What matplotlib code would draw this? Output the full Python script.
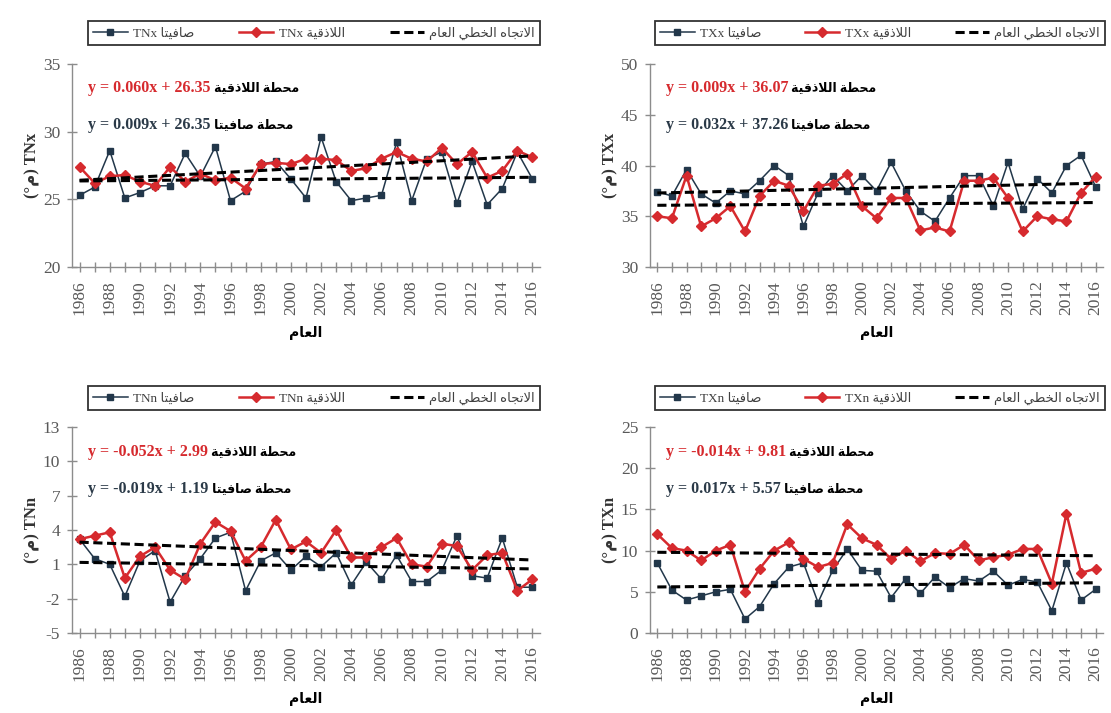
import numpy as np
import matplotlib
matplotlib.use("Agg")
from matplotlib import pyplot as plt
from matplotlib.lines import Line2D

plt.rcParams['font.family'] = ['Liberation Serif', 'DejaVu Sans']

# data
years = list(range(1986, 2017))

tnx_safita = [25.3, 25.9, 28.6, 25.1, 25.5, 26.0, 26.0, 28.4, 26.7, 28.9, 24.9,
              25.6, 27.6, 27.8, 26.5, 25.1, 29.6, 26.3, 24.9, 25.1, 25.3, 29.2,
              24.9, 28.0, 28.5, 24.7, 27.8, 24.6, 25.8, 28.5, 26.5]
tnx_latakia = [27.4, 26.2, 26.7, 26.8, 26.3, 26.0, 27.4, 26.3, 26.9, 26.4, 26.6,
               25.8, 27.6, 27.7, 27.6, 28.0, 28.0, 27.9, 27.1, 27.3, 28.0, 28.5,
               28.0, 27.8, 28.8, 27.6, 28.5, 26.6, 27.1, 28.6, 28.1]

txx_safita = [37.4, 37.0, 39.6, 37.2, 36.3, 37.5, 37.2, 38.5, 40.0, 39.0, 34.0,
              37.3, 39.0, 37.5, 39.0, 37.5, 40.3, 37.5, 35.5, 34.5, 36.8, 39.0,
              39.0, 36.0, 40.3, 35.7, 38.7, 37.3, 40.0, 41.0, 37.9]
txx_latakia = [35.0, 34.8, 39.0, 34.0, 34.8, 36.0, 33.5, 37.0, 38.5, 38.0, 35.5,
               38.0, 38.2, 39.2, 36.0, 34.8, 36.8, 36.8, 33.6, 33.9, 33.5, 38.5,
               38.5, 38.8, 36.8, 33.5, 35.0, 34.7, 34.5, 37.3, 38.9]

tnn_safita = [3.2, 1.5, 1.0, -1.8, 1.3, 2.2, -2.3, 0.0, 1.5, 3.3, 3.8,
              -1.3, 1.3, 2.0, 0.5, 1.7, 0.8, 2.0, -0.8, 1.2, -0.3, 1.8,
              -0.5, -0.5, 0.5, 3.5, 0.0, -0.2, 3.3, -1.0, -1.0]
tnn_latakia = [3.2, 3.5, 3.8, -0.2, 1.7, 2.5, 0.5, -0.3, 2.8, 4.7, 3.9,
               1.3, 2.5, 4.9, 2.3, 3.0, 2.0, 4.0, 1.6, 1.6, 2.5, 3.3,
               1.0, 0.8, 2.8, 2.6, 0.5, 1.8, 2.0, -1.3, -0.3]

txn_safita = [8.5, 5.2, 4.0, 4.5, 5.0, 5.3, 1.7, 3.2, 6.0, 8.0, 8.5,
              3.7, 7.6, 10.2, 7.6, 7.5, 4.3, 6.6, 4.8, 6.8, 5.5, 6.6,
              6.3, 7.5, 5.8, 6.5, 6.2, 2.7, 8.5, 4.0, 5.3]
txn_latakia = [12.0, 10.3, 10.0, 8.8, 10.0, 10.7, 5.0, 7.8, 10.0, 11.0, 9.0,
               8.0, 8.5, 13.2, 11.5, 10.7, 9.0, 10.0, 8.7, 9.7, 9.6, 10.7,
               8.8, 9.2, 9.5, 10.2, 10.2, 6.0, 14.5, 7.3, 7.8]

# trend equations (slope, intercept), x = 1..31
trend_latakia = {'TNx': (0.060, 26.35), 'TXx': (0.009, 36.07),
                 'TNn': (-0.052, 2.99), 'TXn': (-0.014, 9.81)}
trend_safita = {'TNx': (0.009, 26.35), 'TXx': (0.032, 37.26),
                'TNn': (-0.019, 1.19), 'TXn': (0.017, 5.57)}

# minimal arabic shaping (matplotlib has no bidi / joining support)
FORMS = {
    'ا': (0xFE8D, 0xFE8E, None, None),
    'ت': (0xFE95, 0xFE96, 0xFE97, 0xFE98),
    'ة': (0xFE93, 0xFE94, None, None),
    'ج': (0xFE9D, 0xFE9E, 0xFE9F, 0xFEA0),
    'ح': (0xFEA1, 0xFEA2, 0xFEA3, 0xFEA4),
    'خ': (0xFEA5, 0xFEA6, 0xFEA7, 0xFEA8),
    'ذ': (0xFEAB, 0xFEAC, None, None),
    'ص': (0xFEB9, 0xFEBA, 0xFEBB, 0xFEBC),
    'ط': (0xFEC1, 0xFEC2, 0xFEC3, 0xFEC4),
    'ع': (0xFEC9, 0xFECA, 0xFECB, 0xFECC),
    'ف': (0xFED1, 0xFED2, 0xFED3, 0xFED4),
    'ق': (0xFED5, 0xFED6, 0xFED7, 0xFED8),
    'ل': (0xFEDD, 0xFEDE, 0xFEDF, 0xFEE0),
    'م': (0xFEE1, 0xFEE2, 0xFEE3, 0xFEE4),
    'ه': (0xFEE9, 0xFEEA, 0xFEEB, 0xFEEC),
    'ي': (0xFEF1, 0xFEF2, 0xFEF3, 0xFEF4),
}


def ar(text):
    out = []
    link = False
    i = 0
    n = len(text)
    while i < n:
        c = text[i]
        if c not in FORMS:
            out.append(c)
            link = False
            i += 1
            continue
        if c == 'ل' and i + 1 < n and text[i + 1] == 'ا':
            out.append(chr(0xFEFC if link else 0xFEFB))
            link = False
            i += 2
            continue
        iso, fin, ini, med = FORMS[c]
        nxt = ini is not None and i + 1 < n and text[i + 1] in FORMS
        if link and nxt:
            g = med
        elif link:
            g = fin
        elif nxt:
            g = ini
        else:
            g = iso
        out.append(chr(g))
        link = nxt
        i += 1
    return ''.join(reversed(out))


RED = '#d62a2e'
DARK = '#22374a'
GRAY = '#595959'

panels = [
    ('TNx', tnx_safita, tnx_latakia, [20, 25, 30, 35], (72, 540, 64, 267)),
    ('TXx', txx_safita, txx_latakia, [30, 35, 40, 45, 50], (650, 1103, 64, 267)),
    ('TNn', tnn_safita, tnn_latakia, [-5, -2, 1, 4, 7, 10, 13], (72, 540, 427, 633)),
    ('TXn', txn_safita, txn_latakia, [0, 5, 10, 15, 20, 25], (650, 1103, 427, 633)),
]

W, H = 1111, 713
fig = plt.figure(figsize=(W / 100, H / 100), dpi=100)

idx = np.arange(1, len(years) + 1)

for name, saf, lat, yt, (x0, x1, y0, y1) in panels:
    ax = fig.add_axes([x0 / W, 1 - y1 / H, (x1 - x0) / W, (y1 - y0) / H])
    ax.plot(years, saf, color=DARK, lw=1.1, marker='s', ms=4.5, mfc=DARK, mec=DARK)
    ax.plot(years, lat, color=RED, lw=1.8, marker='D', ms=5, mfc=RED, mec=RED)
    a, b = trend_safita[name]
    ax.plot(years, a * idx + b, color='black', lw=2.2, ls=(0, (3, 1.5)))
    a, b = trend_latakia[name]
    ax.plot(years, a * idx + b, color='black', lw=2.2, ls=(0, (3, 1.5)))

    ax.set_xlim(1985.5, 2016.5)
    ax.set_ylim(yt[0], yt[-1])
    ax.set_yticks(yt)
    ax.set_yticklabels([str(v).replace('-', '-') for v in yt])
    ax.set_xticks(years)
    ax.set_xticklabels([str(y) if y % 2 == 0 else '' for y in years], rotation=90)
    for s in ['top', 'right']:
        ax.spines[s].set_visible(False)
    for s in ['left', 'bottom']:
        ax.spines[s].set_color('#8c8c8c')
        ax.spines[s].set_linewidth(1.0)
    ax.tick_params(direction='inout', length=7, width=1, color='#8c8c8c',
                   labelcolor=GRAY, labelsize=12.5)
    ax.tick_params(axis='x', pad=6)
    ax.tick_params(axis='y', pad=5)

    ax.set_xlabel(ar('العام'), fontsize=10, fontweight='bold', labelpad=8)
    ax.set_ylabel('(°' + ar('م') + ') ' + name, fontsize=12, fontweight='bold',
                  color='#333333', labelpad=2)

    # trend equations
    a, b = trend_latakia[name]
    t1 = ax.text(0.035, 0.88, f'y = {a:.3f}x + {b:.2f}', transform=ax.transAxes,
                 color=RED, fontsize=11.5, fontweight='bold', va='center')
    ax.annotate(' ' + ar('محطة اللاذقية'), xy=(1, 0.5), xycoords=t1,
                va='center', fontsize=9, fontweight='bold', color='black')
    a, b = trend_safita[name]
    t2 = ax.text(0.035, 0.70, f'y = {a:.3f}x + {b:.2f}', transform=ax.transAxes,
                 color='#2b3a48', fontsize=11.5, fontweight='bold', va='center')
    ax.annotate(' ' + ar('محطة صافيتا'), xy=(1, 0.5), xycoords=t2,
                va='center', fontsize=9, fontweight='bold', color='black')

    # legend box above the plot
    handles = [
        Line2D([], [], color=DARK, lw=1.1, marker='s', ms=4, mfc=DARK),
        Line2D([], [], color=RED, lw=1.8, marker='D', ms=5, mfc=RED),
        Line2D([], [], color='black', lw=2.2, ls=(0, (3, 1.5))),
    ]
    labels = [name + ' ' + ar('صافيتا'), name + ' ' + ar('اللاذقية'),
              ar('الاتجاه الخطي العام')]
    lx0 = (x0 + 16 if x0 < 100 else x0 + 5)
    lx1 = (540 if x0 < 100 else 1105)
    ly_top = y1 - (5 if y0 < 100 else 367)
    ly_bot = y1 - (45 if y0 < 100 else 410)
    ph = y1 - y0
    pw = x1 - x0
    leg = ax.legend(handles, labels, ncol=3, mode='expand', loc='lower left',
                    bbox_to_anchor=((lx0 - x0) / pw, ly_bot / ph,
                                    (lx1 - lx0) / pw, (ly_top - ly_bot) / ph),
                    fontsize=9.5, frameon=True, fancybox=False, handlelength=2.6,
                    borderaxespad=0, columnspacing=1.0, handletextpad=0.4)
    leg.get_frame().set_edgecolor('black')
    leg.get_frame().set_linewidth(1.3)
    for t in leg.get_texts():
        t.set_color('#404040')

fig.savefig('out.png', dpi=100)
